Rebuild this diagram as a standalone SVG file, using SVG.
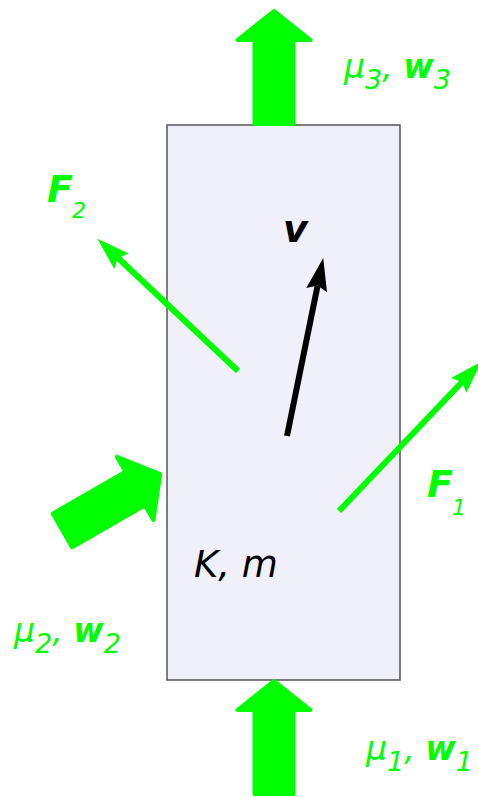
<svg xmlns="http://www.w3.org/2000/svg" width="478" height="797" viewBox="0 0 478 797">
<style>
text{font-family:"DejaVu Sans","Liberation Sans",sans-serif;font-style:italic}
.g{fill:#00ff00}
.k{fill:#000}
.b{font-weight:bold}
.big{font-size:38px}
.sub{font-size:22px;font-weight:normal}
.mu{font-size:33px}
.msub{font-size:27px;font-weight:normal}
.thin{stroke-width:6;fill:none}
.fat{fill:#00ff00;stroke:#00ff00;stroke-width:4;stroke-linejoin:round}
</style>
<defs>
<marker id="hg" markerUnits="userSpaceOnUse" orient="auto" refX="0" refY="0" markerWidth="40" markerHeight="40" viewBox="-6 -12 34 24" overflow="visible">
<path d="M-4,-9 L24,0 L-4,9 L0,0 Z" fill="#00ff00"/>
</marker>
<marker id="hk" markerUnits="userSpaceOnUse" orient="auto" refX="0" refY="0" markerWidth="40" markerHeight="40" viewBox="-6 -12 34 24" overflow="visible">
<path d="M-4,-9 L24,0 L-4,9 L0,0 Z" fill="#000"/>
</marker>
<path id="fatArrow" d="M-2,0 L-31,-36.5 L-31,-19.5 L-115,-19.5 L-115,19.5 L-31,19.5 L-31,36.5 Z"/>
</defs>
<g id="body">
<rect x="167" y="125" width="233" height="555" fill="#f0f0fa" stroke="#555" stroke-width="1.5"/>
<text class="k" x="194" y="577" font-size="37">K, m</text>
</g>
<g id="connectors">
<use href="#fatArrow" class="fat" transform="translate(274,9) rotate(-90)"/>
<use href="#fatArrow" class="fat" transform="translate(274,679) rotate(-90)"/>
<use href="#fatArrow" class="fat" transform="translate(162,473) rotate(-30)"/>
<line class="thin" stroke="#00ff00" x1="238" y1="371" x2="118" y2="258" marker-end="url(#hg)"/>
<line class="thin" stroke="#00ff00" x1="339" y1="511" x2="462" y2="382" marker-end="url(#hg)"/>
<line class="thin" stroke="#000" x1="287" y1="436" x2="317.6" y2="285.6" marker-end="url(#hk)"/>
</g>
<g id="label-F2">
<text class="g b big" x="47" y="202">F</text>
<text class="g sub" x="72" y="218">2</text>
</g>
<g id="label-F1">
<text class="g b big" x="427" y="497">F</text>
<text class="g sub" x="452" y="515">1</text>
</g>
<g id="label-v">
<text class="k b big" x="283" y="242">v</text>
</g>
<g id="label-mu3">
<text class="g mu" x="344" y="78">μ<tspan class="msub" dy="11">3</tspan><tspan dy="-11">, </tspan><tspan class="b">w</tspan><tspan class="msub" dy="11">3</tspan></text>
</g>
<g id="label-mu2">
<text class="g mu" x="14" y="642">μ<tspan class="msub" dy="11">2</tspan><tspan dy="-11">, </tspan><tspan class="b">w</tspan><tspan class="msub" dy="11">2</tspan></text>
</g>
<g id="label-mu1">
<text class="g mu" x="366" y="760">μ<tspan class="msub" dy="11">1</tspan><tspan dy="-11">, </tspan><tspan class="b">w</tspan><tspan class="msub" dy="11">1</tspan></text>
</g>
</svg>
